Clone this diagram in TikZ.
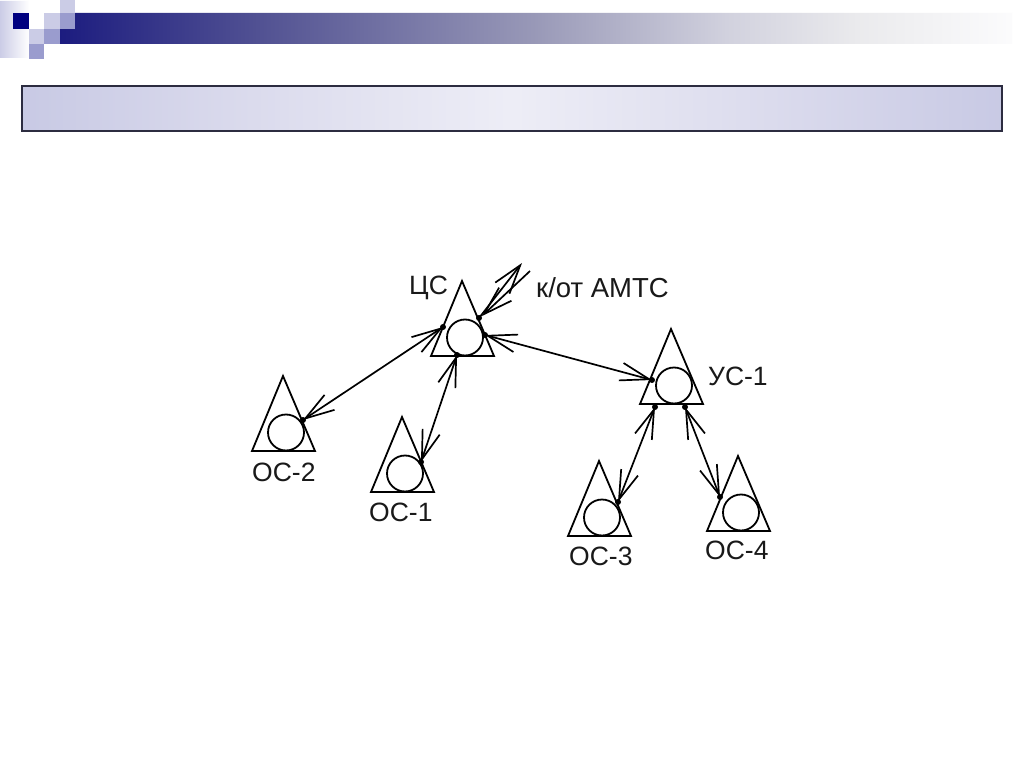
\documentclass[tikz,border=0pt]{standalone}
\usepackage{fontspec}
\setmainfont{Liberation Sans}
\usetikzlibrary{arrows.meta}
\definecolor{sqlight}{HTML}{CBCCE6}
\definecolor{sqmid}{HTML}{9A9CCE}
\definecolor{sqnavy}{HTML}{000080}
\definecolor{boxedge}{HTML}{2C2C40}
\pgfdeclarehorizontalshading{bandtwo}{100bp}{
  rgb(0bp)=(0.11,0.11,0.50);
  rgb(25bp)=(0.11,0.11,0.50);
  rgb(36bp)=(0.33,0.33,0.58);
  rgb(50bp)=(0.60,0.60,0.72);
  rgb(60bp)=(0.82,0.82,0.87);
  rgb(67bp)=(0.92,0.92,0.93);
  rgb(75bp)=(0.985,0.985,0.99);
  rgb(100bp)=(0.985,0.985,0.99)}
\pgfdeclarehorizontalshading{boxshade}{100bp}{
  rgb(0bp)=(0.785,0.79,0.895);
  rgb(25bp)=(0.785,0.79,0.895);
  rgb(37bp)=(0.86,0.86,0.93);
  rgb(50bp)=(0.93,0.93,0.965);
  rgb(63bp)=(0.86,0.86,0.93);
  rgb(75bp)=(0.785,0.79,0.895);
  rgb(100bp)=(0.785,0.79,0.895)}
\tikzset{
  stcircle/.style={circle,draw=black,line width=1.8pt,minimum size=36pt,inner sep=0pt},
  sttri/.style={draw=black,line width=1.8pt,line join=miter},
  joint/.style={circle,fill=black,minimum size=6pt,inner sep=0pt},
  barbtip/.tip={Straight Barb[length=29pt,width=18pt]},
  link/.style={draw=black,line width=1.7pt,barbtip-barbtip},
  oneway/.style={draw=black,line width=1.7pt,-barbtip},
  lab/.style={font=\fontsize{26.5}{26.5}\selectfont,text=black!90,inner sep=0pt,anchor=base west},
  labwide/.style={lab,font=\fontsize{27.5}{27.5}\selectfont},
}
% name, apex x, apex y
\newcommand{\stationmark}[3]{%
  \draw[sttri] (#2,#3) -- ++(-31,75) -- ++(63,0) -- cycle;
  \node[stcircle] (#1) at (#2+3,#3+56.5) {};
}
\begin{document}
\begin{tikzpicture}[x=1pt,y=-1pt]
\useasboundingbox (0,0) rectangle (1024,767);
% template decoration
\fill[white] (0,0) rectangle (1024,767);
\shade[left color=sqlight,right color=white] (0,1) -- (29,1) -- (29,13) -- (13,13) -- (13,29) -- (29,29) -- (29,58) -- (0,58) -- cycle;
\shade[shading=bandtwo] (60,29) -- (75,29) -- (75,13) -- (1012,13) -- (1012,44) -- (60,44) -- cycle;
\fill[sqnavy] (13,13) rectangle (29,29);
\fill[sqlight] (44,13) rectangle (60,29);
\fill[sqlight] (60,0) rectangle (75,13);
\fill[sqmid] (60,13) rectangle (75,29);
\fill[sqlight] (29,29) rectangle (44,44);
\fill[sqmid] (44,29) rectangle (60,44);
\fill[sqmid] (29,44) rectangle (44,59);
% title bar
\shade[shading=boxshade] (22,86) rectangle (1002,131);
\draw[boxedge,line width=1.2pt] (22,86) rectangle (1002,131);
% stations
\stationmark{cs}{462}{281}
\stationmark{us1}{671}{329}
\stationmark{os2}{283}{376}
\stationmark{os1}{402}{417}
\stationmark{os3}{599}{461}
\stationmark{os4}{738}{456}
% connection points
\node[joint] (csw) at (443,327) {};
\node[joint] (css) at (457,355) {};
\node[joint] (cse) at (485,335) {};
\node[joint] (csn) at (479,318) {};
\coordinate (csn2) at (482,316);
\coordinate (amtsa) at (522,263);
\coordinate (amtsb) at (530,271);
\node[joint] (usw) at (652,380) {};
\node[joint] (ussa) at (655,407) {};
\node[joint] (ussb) at (685,407) {};
\node[joint] (os2p) at (303,420) {};
\node[joint] (os1p) at (421,462) {};
\node[joint] (os3p) at (618,502) {};
\node[joint] (os4p) at (720,497) {};
% connectors
\draw[link] (os2p.center) -- (csw.center);
\draw[link] (os1p.center) -- (css.center);
\draw[link] (cse.center) -- (usw.center);
\draw[link] (os3p.center) -- (ussa.center);
\draw[link] (os4p.center) -- (ussb.center);
\draw[oneway] (csn.center) -- (amtsa);
\draw[oneway] (amtsb) -- (csn2);
% labels
\node[lab] (lcs) at (409,294) {ЦС};
\node[labwide] (lamts) at (536,297) {к/от АМТС};
\node[lab] (lus) at (708,385) {УС-1};
\node[lab] (l2) at (252,481) {ОС-2};
\node[lab] (l1) at (369,521) {ОС-1};
\node[lab] (l3) at (569,565) {ОС-3};
\node[lab] (l4) at (705,559) {ОС-4};
\end{tikzpicture}
\end{document}
